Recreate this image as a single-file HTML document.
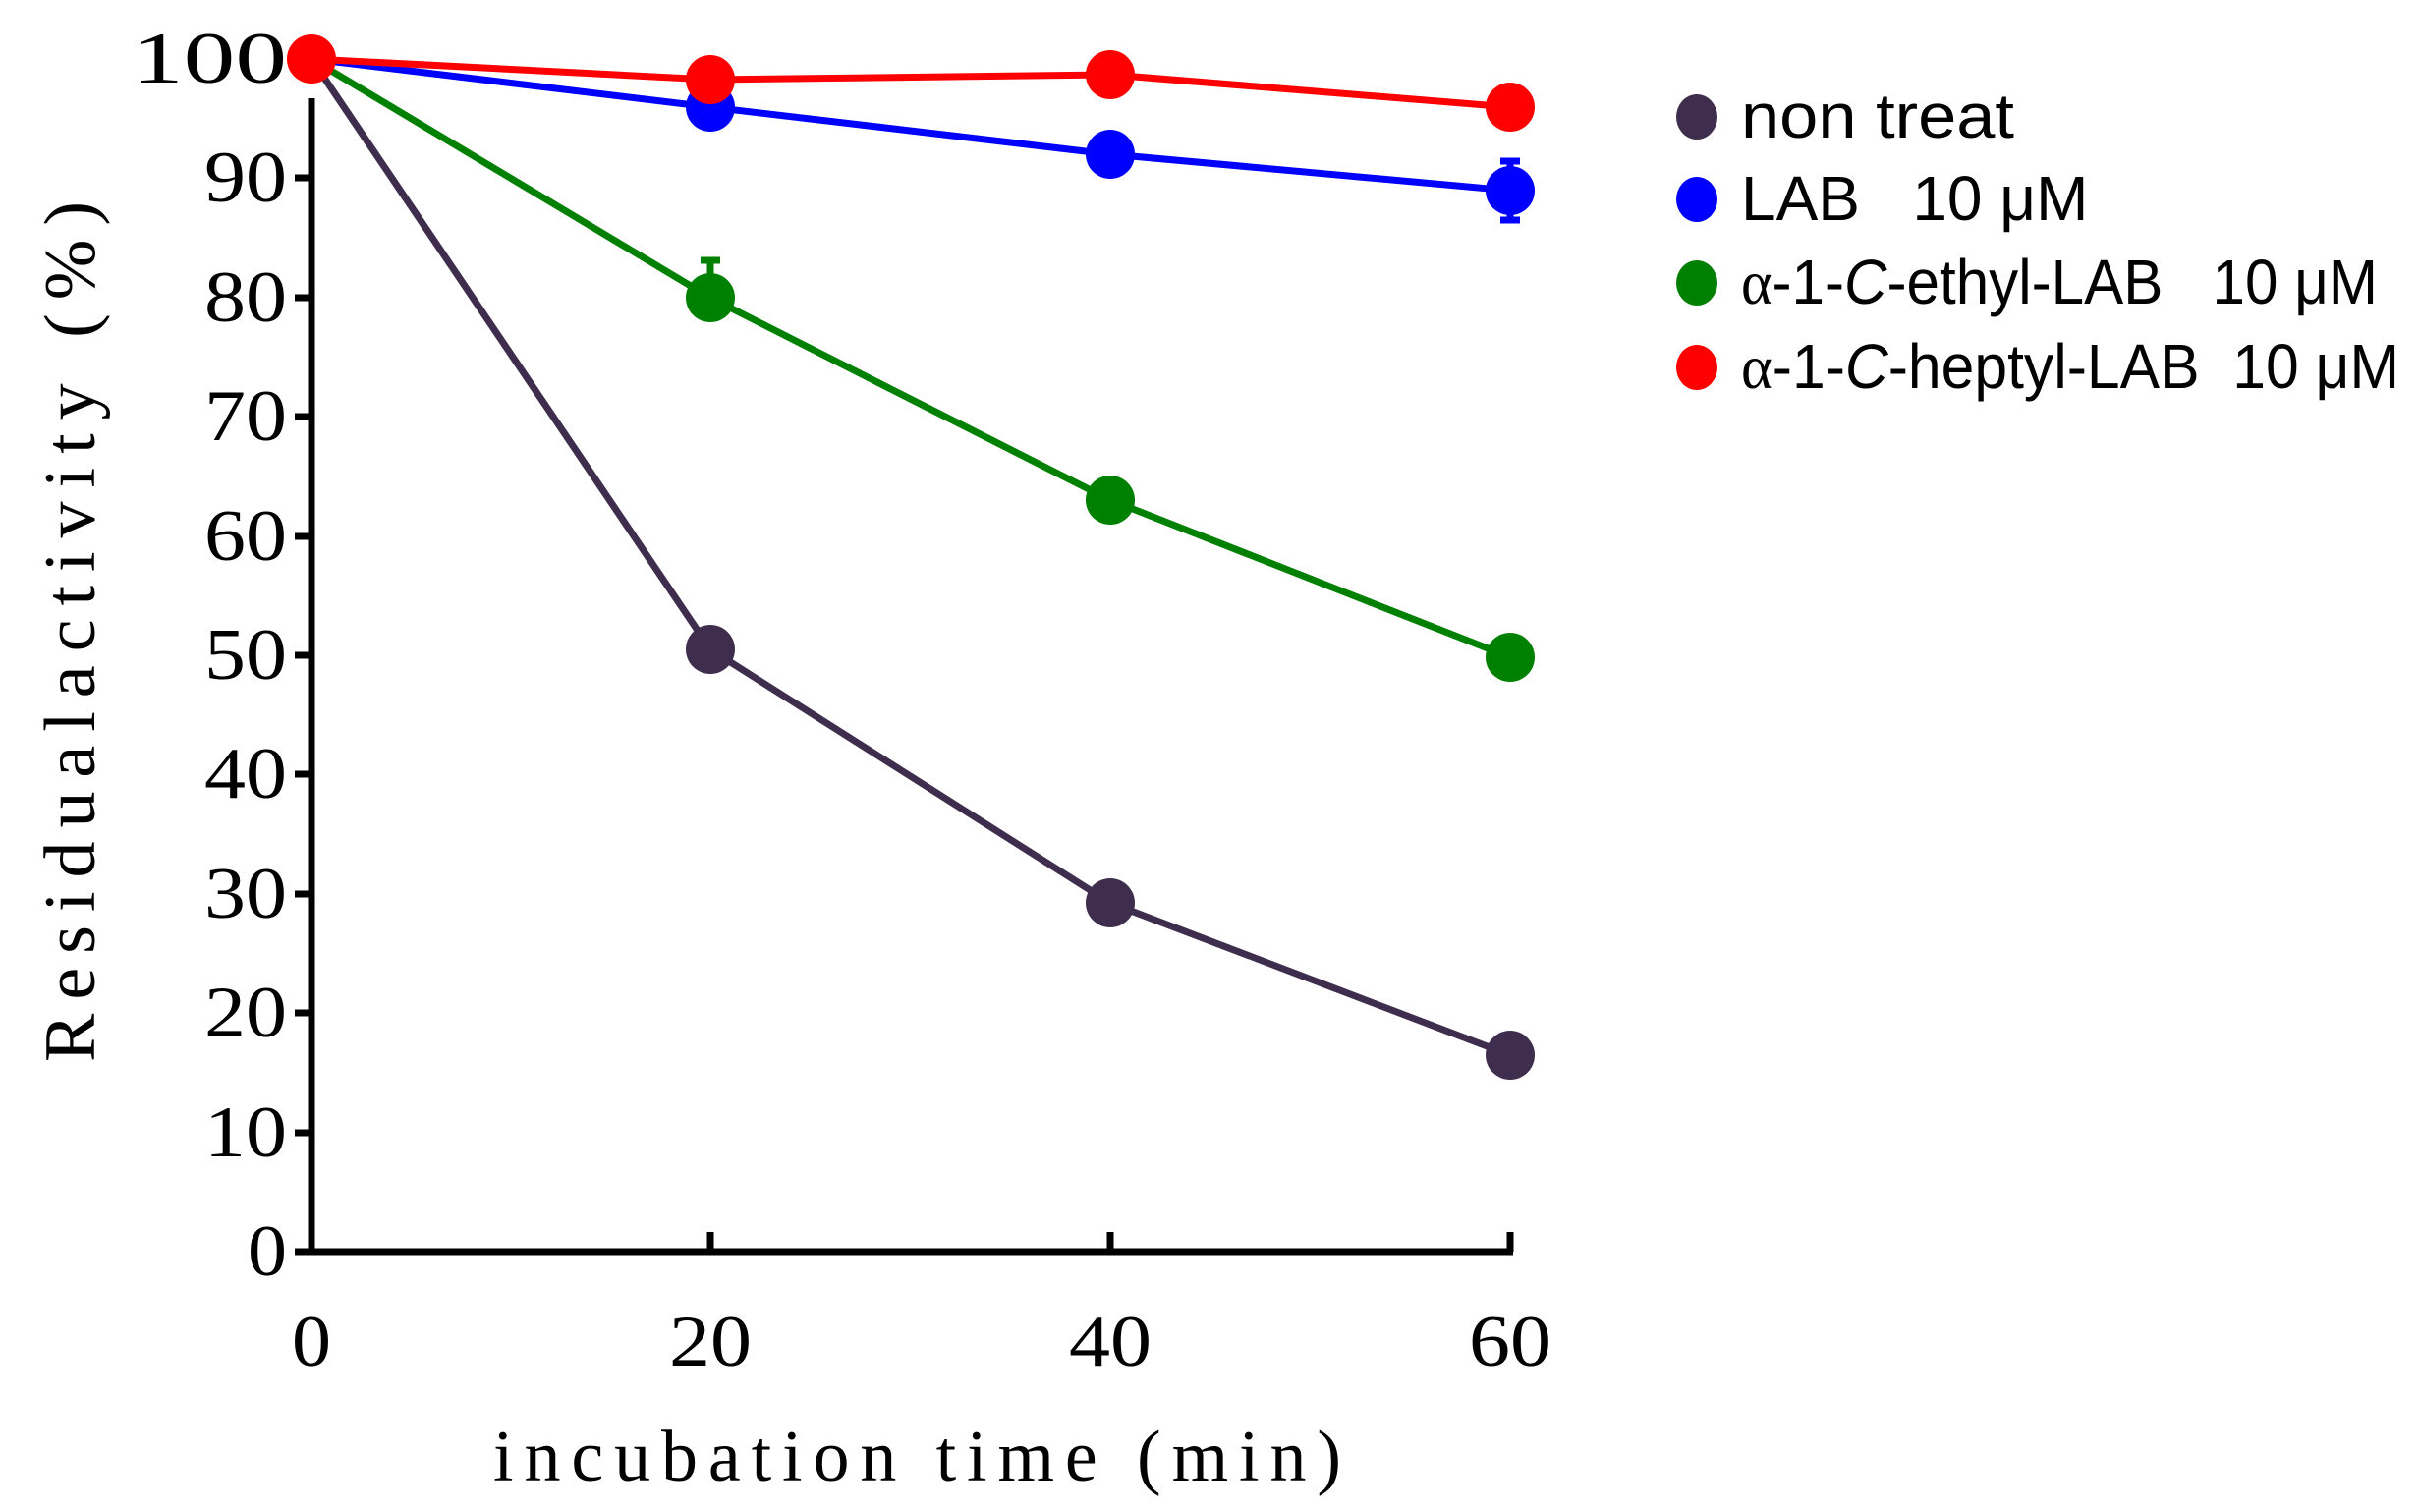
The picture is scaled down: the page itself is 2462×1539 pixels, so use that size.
<!DOCTYPE html>
<html><head><style>body{margin:0;background:#fff}svg{display:block}</style></head><body>
<svg width="2462" height="1539" xmlns="http://www.w3.org/2000/svg">
<g stroke="#000" stroke-width="7" fill="none">
<line x1="317" y1="100" x2="317" y2="1277"/>
<line x1="314" y1="1274" x2="1540" y2="1274"/>
<line x1="300" y1="1274" x2="317" y2="1274"/>
<line x1="300" y1="1153" x2="317" y2="1153"/>
<line x1="300" y1="1031" x2="317" y2="1031"/>
<line x1="300" y1="910" x2="317" y2="910"/>
<line x1="300" y1="788" x2="317" y2="788"/>
<line x1="300" y1="667" x2="317" y2="667"/>
<line x1="300" y1="546" x2="317" y2="546"/>
<line x1="300" y1="424" x2="317" y2="424"/>
<line x1="300" y1="303" x2="317" y2="303"/>
<line x1="300" y1="181" x2="317" y2="181"/>
<line x1="723" y1="1254" x2="723" y2="1274"/>
<line x1="1130" y1="1254" x2="1130" y2="1274"/>
<line x1="1537" y1="1254" x2="1537" y2="1274"/>
</g>
<g font-family="Liberation Serif, serif" font-size="74" fill="#000">
<text x="252" y="1298" textLength="40" lengthAdjust="spacingAndGlyphs">0</text>
<text x="208" y="1177" textLength="84" lengthAdjust="spacingAndGlyphs">10</text>
<text x="208" y="1055" textLength="84" lengthAdjust="spacingAndGlyphs">20</text>
<text x="208" y="934" textLength="84" lengthAdjust="spacingAndGlyphs">30</text>
<text x="208" y="812" textLength="84" lengthAdjust="spacingAndGlyphs">40</text>
<text x="208" y="691" textLength="84" lengthAdjust="spacingAndGlyphs">50</text>
<text x="208" y="570" textLength="84" lengthAdjust="spacingAndGlyphs">60</text>
<text x="208" y="448" textLength="84" lengthAdjust="spacingAndGlyphs">70</text>
<text x="208" y="327" textLength="84" lengthAdjust="spacingAndGlyphs">80</text>
<text x="208" y="205" textLength="84" lengthAdjust="spacingAndGlyphs">90</text>
<text x="134" y="84" textLength="158" lengthAdjust="spacingAndGlyphs">100</text>
<text x="297" y="1390" textLength="40" lengthAdjust="spacingAndGlyphs">0</text>
<text x="681" y="1390" textLength="84" lengthAdjust="spacingAndGlyphs">20</text>
<text x="1088" y="1390" textLength="84" lengthAdjust="spacingAndGlyphs">40</text>
<text x="1495" y="1390" textLength="84" lengthAdjust="spacingAndGlyphs">60</text>
<text x="502" y="1507" textLength="863" lengthAdjust="spacing">incubation time (min)</text>
<text transform="translate(96,1081) rotate(-90)" textLength="876" lengthAdjust="spacing">Residualactivity (%)</text>
</g>
<g stroke-width="7" fill="none">
<polyline stroke="#3f2d4d" points="317,60 723,661 1130,919 1537,1074"/>
<polyline stroke="#008000" points="317,60 723,303 1130,509 1537,669"/>
<polyline stroke="#0000ff" points="317,60 723,109 1130,157 1537,194"/>
<polyline stroke="#ff0000" points="317,60 723,81 1130,76 1537,109"/>
<path stroke="#008000" d="M723,303V265M713,265H733"/>
<path stroke="#0000ff" d="M1537,164V224M1527,164H1547M1527,224H1547"/>
</g>
<g>
<circle cx="723" cy="661" r="25" fill="#3f2d4d"/><circle cx="1130" cy="919" r="25" fill="#3f2d4d"/><circle cx="1537" cy="1074" r="25" fill="#3f2d4d"/>
<circle cx="723" cy="303" r="25" fill="#008000"/><circle cx="1130" cy="509" r="25" fill="#008000"/><circle cx="1537" cy="669" r="25" fill="#008000"/>
<circle cx="723" cy="109" r="25" fill="#0000ff"/><circle cx="1130" cy="157" r="25" fill="#0000ff"/><circle cx="1537" cy="194" r="25" fill="#0000ff"/>
<circle cx="317" cy="60" r="25" fill="#ff0000"/><circle cx="723" cy="81" r="25" fill="#ff0000"/><circle cx="1130" cy="76" r="25" fill="#ff0000"/><circle cx="1537" cy="109" r="25" fill="#ff0000"/>
</g>
<g>
<ellipse cx="1727" cy="119" rx="21" ry="23" fill="#3f2d4d"/>
<ellipse cx="1727" cy="203" rx="21" ry="23" fill="#0000ff"/>
<ellipse cx="1727" cy="288" rx="21" ry="23" fill="#008000"/>
<ellipse cx="1727" cy="374" rx="21" ry="23" fill="#ff0000"/>
</g>
<g font-family="Liberation Sans, sans-serif" font-size="64" fill="#000">
<text x="1772" y="140" textLength="278" lengthAdjust="spacingAndGlyphs">non treat</text>
<text x="1772" y="224" xml:space="preserve">LAB   10 μM</text>
<text x="1772" y="309" xml:space="preserve" textLength="648" lengthAdjust="spacingAndGlyphs"><tspan font-family="Liberation Serif, serif">α</tspan>-1-<tspan font-style="italic">C</tspan>-ethyl-LAB   10 μM</text>
<text x="1772" y="395" xml:space="preserve" textLength="670" lengthAdjust="spacingAndGlyphs"><tspan font-family="Liberation Serif, serif">α</tspan>-1-<tspan font-style="italic">C</tspan>-heptyl-LAB  10 μM</text>
</g>
</svg>
</body></html>
